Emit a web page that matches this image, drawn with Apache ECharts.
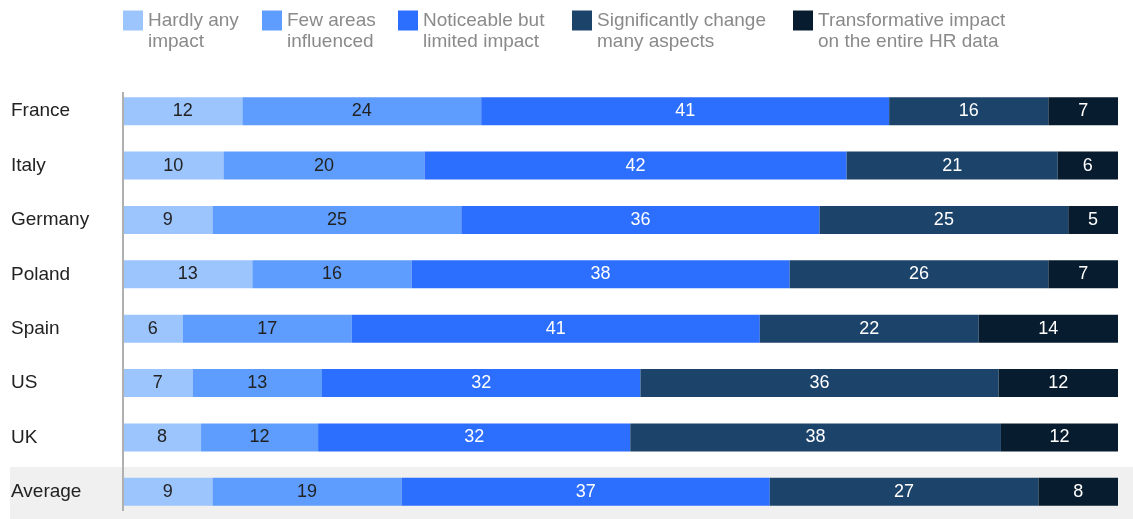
<!DOCTYPE html>
<html>
<head>
<meta charset="utf-8">
<script src="https://cdn.jsdelivr.net/npm/echarts@6/dist/echarts.min.js"></script>
<style>
  html, body { margin: 0; padding: 0; background: #fff; }
  #chart { width: 1133px; height: 519px; }
</style>
</head>
<body>
<div id="chart"></div>
<script>
// Countries, top to bottom
const countries = ['France', 'Italy', 'Germany', 'Poland', 'Spain', 'US', 'UK', 'Average'];

// Share of respondents (%) per impact level, in country order
const hardlyAny      = [12, 10, 9, 13, 6, 7, 8, 9];
const fewAreas       = [24, 20, 25, 16, 17, 13, 12, 19];
const noticeable     = [41, 42, 36, 38, 41, 32, 32, 37];
const significant    = [16, 21, 25, 26, 22, 36, 38, 27];
const transformative = [7, 6, 5, 7, 14, 12, 12, 8];

const levelNames = [
  'Hardly any\nimpact',
  'Few areas\ninfluenced',
  'Noticeable but\nlimited impact',
  'Significantly change\nmany aspects',
  'Transformative impact\non the entire HR data'
];
const levelColors = ['#9cc5fe', '#5e9dfe', '#2c6efe', '#1c436a', '#071c2e'];
const labelColors = ['#222222', '#222222', '#ffffff', '#ffffff', '#ffffff'];
const levels = [hardlyAny, fewAreas, noticeable, significant, transformative];

// Legend text column widths (px), so the swatches sit evenly along the top
const legendTextWidths = [114, 111, 149, 196, 200];

// Each row is scaled to fill the full width (rounded shares may not sum to exactly 100)
const rowTotals = countries.map((_, i) => levels.reduce((s, arr) => s + arr[i], 0));

const FONT = 'Liberation Sans, Arial, sans-serif';

const series = levels.map((arr, k) => ({
  name: levelNames[k],
  type: 'bar',
  stack: 'total',
  barWidth: 28,
  itemStyle: { color: levelColors[k] },
  label: {
    show: true,
    position: 'inside',
    color: labelColors[k],
    fontSize: 18,
    fontFamily: FONT,
    formatter: p => String(arr[p.dataIndex])
  },
  emphasis: { disabled: true },
  data: arr.map((v, i) => v / rowTotals[i] * 100)
}));

const chart = echarts.init(document.getElementById('chart'), null, { renderer: 'canvas' });
chart.setOption({
  animation: false,
  backgroundColor: '#ffffff',
  legend: {
    left: 123,
    top: -11,
    padding: 0,
    itemGap: 0,
    itemWidth: 20,
    itemHeight: 20,
    icon: 'rect',
    selectedMode: false,
    data: levelNames.map((n, k) => ({ name: n, textStyle: { width: legendTextWidths[k] } })),
    // blank first line keeps the swatch beside the first text line
    formatter: name => '\n' + name,
    textStyle: {
      color: '#8a8a8a',
      fontSize: 19,
      lineHeight: 21,
      fontFamily: FONT
    }
  },
  graphic: [
    // highlighted band behind the Average row
    { type: 'rect', z: -10, silent: true,
      shape: { x: 10, y: 467, width: 1123, height: 52 },
      style: { fill: '#f0f0f0' } },
    // left baseline
    { type: 'line', z: 10, silent: true,
      shape: { x1: 123, y1: 92, x2: 123, y2: 511 },
      style: { stroke: '#b0b0b0', lineWidth: 2 } }
  ],
  grid: { left: 123, right: 15, top: 84, height: 435, containLabel: false },
  xAxis: {
    type: 'value', min: 0, max: 100,
    show: false
  },
  yAxis: {
    type: 'category',
    inverse: true,
    data: countries,
    axisLine: { show: false },
    axisTick: { show: false },
    splitLine: { show: false },
    axisLabel: {
      align: 'left',
      margin: 112,
      color: '#222222',
      fontSize: 19,
      fontFamily: FONT
    }
  },
  series: series
});
</script>
</body>
</html>
